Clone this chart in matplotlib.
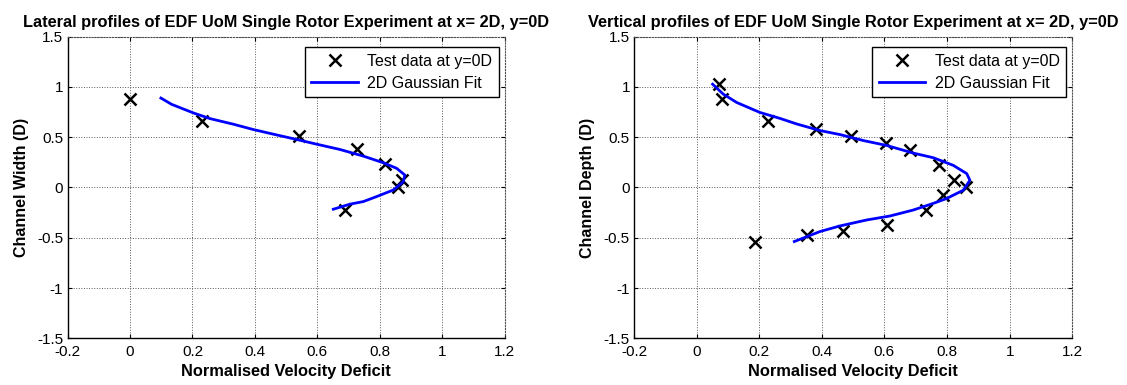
import matplotlib
matplotlib.use("Agg")
import matplotlib.pyplot as plt
from matplotlib.ticker import FormatStrFormatter

plt.rcParams["font.family"] = ["Liberation Sans", "DejaVu Sans"]
plt.rcParams["axes.unicode_minus"] = False

# Lateral profile (x = 2D, y = 0D)
lat_test_deficit = [0.00, 0.23, 0.54, 0.727, 0.817, 0.872, 0.859, 0.688]
lat_test_width = [0.883, 0.661, 0.51, 0.378, 0.23, 0.074, 0.008, -0.223]
lat_fit_deficit = [0.099, 0.133, 0.203, 0.256, 0.331, 0.395, 0.459, 0.534, 0.597,
                   0.672, 0.747, 0.811, 0.854, 0.880, 0.875, 0.843, 0.789, 0.747,
                   0.704, 0.651]
lat_fit_width = [0.889, 0.827, 0.741, 0.685, 0.629, 0.576, 0.530, 0.477, 0.431,
                 0.378, 0.312, 0.246, 0.190, 0.124, 0.057, -0.025, -0.091, -0.140,
                 -0.166, -0.216]

# Vertical profile (x = 2D, y = 0D)
ver_test_deficit = [0.072, 0.080, 0.229, 0.381, 0.493, 0.604, 0.681, 0.774, 0.822,
                    0.860, 0.788, 0.733, 0.607, 0.468, 0.353, 0.186]
ver_test_depth = [1.033, 0.878, 0.657, 0.582, 0.516, 0.440, 0.375, 0.220, 0.079,
                  0.0, -0.076, -0.224, -0.372, -0.428, -0.471, -0.537]
ver_fit_deficit = [0.051, 0.085, 0.128, 0.202, 0.266, 0.319, 0.394, 0.458, 0.532,
                   0.607, 0.692, 0.756, 0.820, 0.863, 0.873, 0.852, 0.799, 0.756,
                   0.692, 0.618, 0.543, 0.458, 0.394, 0.312]
ver_fit_depth = [1.027, 0.928, 0.845, 0.746, 0.687, 0.632, 0.566, 0.526, 0.467,
                 0.418, 0.342, 0.296, 0.220, 0.138, 0.072, -0.027, -0.109, -0.158,
                 -0.224, -0.283, -0.323, -0.382, -0.438, -0.537]

x_ticks = [-0.2, 0, 0.2, 0.4, 0.6, 0.8, 1.0, 1.2]
y_ticks = [-1.5, -1, -0.5, 0, 0.5, 1, 1.5]

panels = [
    ("Lateral profiles of EDF UoM Single Rotor Experiment at x= 2D, y=0D",
     "Channel Width (D)", lat_test_deficit, lat_test_width,
     lat_fit_deficit, lat_fit_width),
    ("Vertical profiles of EDF UoM Single Rotor Experiment at x= 2D, y=0D",
     "Channel Depth (D)", ver_test_deficit, ver_test_depth,
     ver_fit_deficit, ver_fit_depth),
]

fig = plt.figure(figsize=(11.27, 3.85), dpi=100)
axes_rects = [[0.0599, 0.121, 0.388, 0.784], [0.5626, 0.121, 0.3888, 0.784]]

for rect, (title, ylabel, tx, ty, fx, fy) in zip(axes_rects, panels):
    ax = fig.add_axes(rect)
    ax.plot(tx, ty, linestyle="none", marker="x", color="black",
            markersize=8, markeredgewidth=1.8, label="Test data at y=0D")
    ax.plot(fx, fy, color="#0000ff", linewidth=2.0, label="2D Gaussian Fit")
    ax.set_xlim(-0.2, 1.2)
    ax.set_ylim(-1.5, 1.5)
    ax.set_xticks(x_ticks)
    ax.set_yticks(y_ticks)
    ax.xaxis.set_major_formatter(FormatStrFormatter("%g"))
    ax.yaxis.set_major_formatter(FormatStrFormatter("%g"))
    ax.tick_params(direction="in", length=3, width=0.8, top=True, right=True,
                   labelsize=11, colors="black")
    ax.tick_params(axis="x", pad=5)
    ax.tick_params(axis="y", pad=3)
    ax.grid(True, linestyle=":", color="0.35", linewidth=0.7)
    for side in ("left", "bottom"):
        ax.spines[side].set_linewidth(1.0)
        ax.spines[side].set_color("black")
    for side in ("top", "right"):
        ax.spines[side].set_linestyle(":")
        ax.spines[side].set_color("0.3")
        ax.spines[side].set_linewidth(0.8)
    ax.set_title(title, fontsize=11.8, fontweight="bold", pad=7)
    ax.set_xlabel("Normalised Velocity Deficit", fontsize=11.8,
                  fontweight="bold", labelpad=3)
    ax.set_ylabel(ylabel, fontsize=11.5, fontweight="bold", labelpad=6)
    leg = ax.legend(loc="upper right", bbox_to_anchor=(0.986, 0.965),
                    borderaxespad=0, fontsize=11.5, fancybox=False,
                    framealpha=1, edgecolor="black",
                    handlelength=2.9, handletextpad=0.6, borderpad=0.4,
                    labelspacing=0.45)
    leg.get_frame().set_linewidth(1.0)

fig.savefig("out.png", dpi=100)
